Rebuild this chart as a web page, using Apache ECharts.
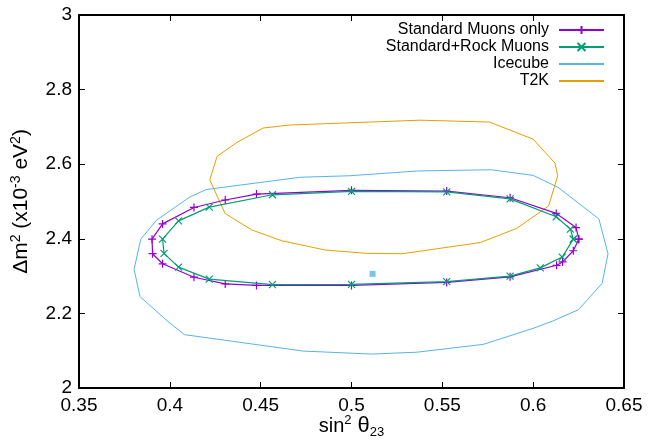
<!DOCTYPE html>
<html>
<head>
<meta charset="utf-8">
<script src="https://cdn.jsdelivr.net/npm/echarts@6/dist/echarts.min.js"></script>
<style>
  html, body { margin: 0; padding: 0; background: #fff; }
  #chart { width: 649px; height: 441px; }
</style>
</head>
<body>
<div id="chart"></div>
<script>
// Allowed regions in the (sin^2 theta23, delta m^2) plane
const muonsX = [0.6251, 0.6236, 0.6127, 0.5873, 0.5524, 0.500, 0.4477, 0.4305, 0.4133, 0.396, 0.3902, 0.3905, 0.396, 0.4133, 0.4305, 0.4477, 0.500, 0.5524, 0.5873, 0.6129, 0.6162, 0.6221, 0.6251];
const muonsY = [2.399, 2.430, 2.468, 2.510, 2.528, 2.530, 2.520, 2.504, 2.484, 2.440, 2.399, 2.360, 2.333, 2.297, 2.279, 2.275, 2.275, 2.283, 2.298, 2.329, 2.338, 2.368, 2.399];

const rockX = [0.6221, 0.6205, 0.6127, 0.5873, 0.5524, 0.500, 0.4565, 0.4217, 0.4048, 0.396, 0.3968, 0.4048, 0.4217, 0.4565, 0.500, 0.5524, 0.5873, 0.6039, 0.616, 0.6221];
const rockY = [2.399, 2.426, 2.459, 2.507, 2.526, 2.527, 2.518, 2.485, 2.448, 2.399, 2.361, 2.324, 2.292, 2.277, 2.278, 2.285, 2.300, 2.322, 2.351, 2.399];

const icecubeX = [0.3803, 0.3840, 0.3927, 0.411, 0.420, 0.4717, 0.499, 0.537, 0.577, 0.600, 0.6137, 0.6362, 0.6412, 0.638, 0.625, 0.611, 0.600, 0.5726, 0.536, 0.511, 0.4734, 0.4081, 0.399, 0.3836, 0.3803];
const icecubeY = [2.318, 2.399, 2.450, 2.512, 2.532, 2.565, 2.569, 2.582, 2.585, 2.570, 2.538, 2.453, 2.360, 2.281, 2.210, 2.180, 2.160, 2.117, 2.096, 2.091, 2.099, 2.143, 2.178, 2.245, 2.318];

const t2kX = [0.422, 0.426, 0.4368, 0.4514, 0.466, 0.5377, 0.576, 0.600, 0.612, 0.6135, 0.6085, 0.591, 0.571, 0.528, 0.5082, 0.4854, 0.4615, 0.445, 0.4304, 0.422];
const t2kY = [2.558, 2.621, 2.658, 2.697, 2.705, 2.718, 2.713, 2.667, 2.603, 2.569, 2.488, 2.428, 2.390, 2.360, 2.361, 2.370, 2.395, 2.424, 2.468, 2.558];

const bestFitX = [0.5116];
const bestFitY = [2.306];

const seriesNames = ['Standard Muons only', 'Standard+Rock Muons', 'Icecube', 'T2K'];

const zip = (xs, ys) => xs.map((x, i) => [x, ys[i]]);

const FONT = '"Liberation Sans", Arial, sans-serif';
const PLUS = 'path://M0,-1 L0,1 M-1,0 L1,0';
const CROSS = 'path://M-1,-1 L1,1 M-1,1 L1,-1';

const chart = echarts.init(document.getElementById('chart'), null, { renderer: 'canvas' });

const axisCommon = {
  axisLine: { show: true, onZero: false, lineStyle: { color: '#000', width: 2 } },
  axisTick: { show: true, inside: true, length: 6, lineStyle: { color: '#000', width: 1 } },
  splitLine: { show: false }
};

chart.setOption({
  animation: false,
  backgroundColor: '#fff',
  textStyle: { fontFamily: FONT },
  grid: { left: 79, right: 25, top: 15, bottom: 53, containLabel: false, outerBoundsMode: 'none' },
  legend: {
    data: [
      { name: seriesNames[0] },
      { name: seriesNames[1] },
      { name: seriesNames[2], itemStyle: { opacity: 0 } },
      { name: seriesNames[3], itemStyle: { opacity: 0 } }
    ],
    orient: 'vertical',
    right: 44,
    top: 22,
    padding: 0,
    align: 'right',
    itemWidth: 45,
    itemHeight: 10,
    itemGap: 1,
    selectedMode: false,
    textStyle: { fontFamily: FONT, fontSize: 16, color: '#000', width: 160, align: 'right', lineHeight: 15, padding: [0, 5, 0, 0] }
  },
  xAxis: [
    Object.assign({}, axisCommon, {
      type: 'value', position: 'bottom', min: 0.35, max: 0.65, interval: 0.05,
      axisLabel: { fontSize: 19, color: '#000', margin: 8, fontFamily: FONT,
        formatter: v => String(+v.toFixed(2)) },
      name: '{b|sin}{sup|2}{t| θ}{sub|23}',
      nameLocation: 'middle',
      nameGap: 26,
      nameMoveOverlap: false,
      nameTextStyle: {
        fontFamily: FONT,
        rich: {
          b: { fontSize: 20, lineHeight: 24, color: '#000', fontFamily: FONT },
          t: { fontSize: 22, lineHeight: 24, color: '#000', fontFamily: FONT },
          sup: { fontSize: 13, lineHeight: 13, color: '#000', verticalAlign: 'top', fontFamily: FONT },
          sub: { fontSize: 13, lineHeight: 13, color: '#000', verticalAlign: 'bottom', fontFamily: FONT, padding: [0, 0, -1, 0] }
        }
      }
    }),
    Object.assign({}, axisCommon, {
      type: 'value', position: 'top', min: 0.35, max: 0.65, interval: 0.05,
      axisLabel: { show: false }
    })
  ],
  yAxis: [
    Object.assign({}, axisCommon, {
      type: 'value', position: 'left', min: 2, max: 3, interval: 0.2,
      axisLabel: { fontSize: 19, color: '#000', margin: 7, fontFamily: FONT,
        formatter: v => String(+v.toFixed(1)) },
      name: '{b|Δm}{sup|2}{b| (x10}{sup|-3}{b| eV}{sup|2}{b|)}',
      nameLocation: 'middle',
      nameGap: 45,
      nameRotate: 90,
      nameMoveOverlap: false,
      nameTextStyle: {
        fontFamily: FONT,
        rich: {
          b: { fontSize: 21, lineHeight: 25, color: '#000', fontFamily: FONT },
          sup: { fontSize: 14, lineHeight: 14, color: '#000', verticalAlign: 'top', fontFamily: FONT }
        }
      }
    }),
    Object.assign({}, axisCommon, {
      type: 'value', position: 'right', min: 2, max: 3, interval: 0.2,
      axisLabel: { show: false }
    })
  ],
  series: [
    {
      name: seriesNames[0], type: 'line', data: zip(muonsX, muonsY),
      xAxisIndex: 0, yAxisIndex: 0,
      symbol: PLUS, symbolSize: 8, showSymbol: true,
      lineStyle: { color: '#9400d3', width: 1.2 },
      itemStyle: { color: '#9400d3', borderColor: '#9400d3', borderWidth: 1.2 },
      z: 4
    },
    {
      name: seriesNames[1], type: 'line', data: zip(rockX, rockY),
      xAxisIndex: 0, yAxisIndex: 0,
      symbol: CROSS, symbolSize: 7, showSymbol: true,
      lineStyle: { color: '#009e73', width: 1.2 },
      itemStyle: { color: '#009e73', borderColor: '#009e73', borderWidth: 1.2 },
      z: 5
    },
    {
      name: seriesNames[2], type: 'line', data: zip(icecubeX, icecubeY),
      xAxisIndex: 0, yAxisIndex: 0,
      symbol: 'none',
      lineStyle: { color: '#56b4e9', width: 1 },
      itemStyle: { color: '#56b4e9' },
      z: 3
    },
    {
      name: seriesNames[3], type: 'line', data: zip(t2kX, t2kY),
      xAxisIndex: 0, yAxisIndex: 0,
      symbol: 'none',
      lineStyle: { color: '#e69f00', width: 1 },
      itemStyle: { color: '#e69f00' },
      z: 3
    },
    {
      name: 'best fit', type: 'scatter', data: zip(bestFitX, bestFitY),
      xAxisIndex: 0, yAxisIndex: 0,
      symbol: 'rect', symbolSize: 6,
      itemStyle: { color: '#56b4e9' },
      z: 3
    }
  ]
});
</script>
</body>
</html>
